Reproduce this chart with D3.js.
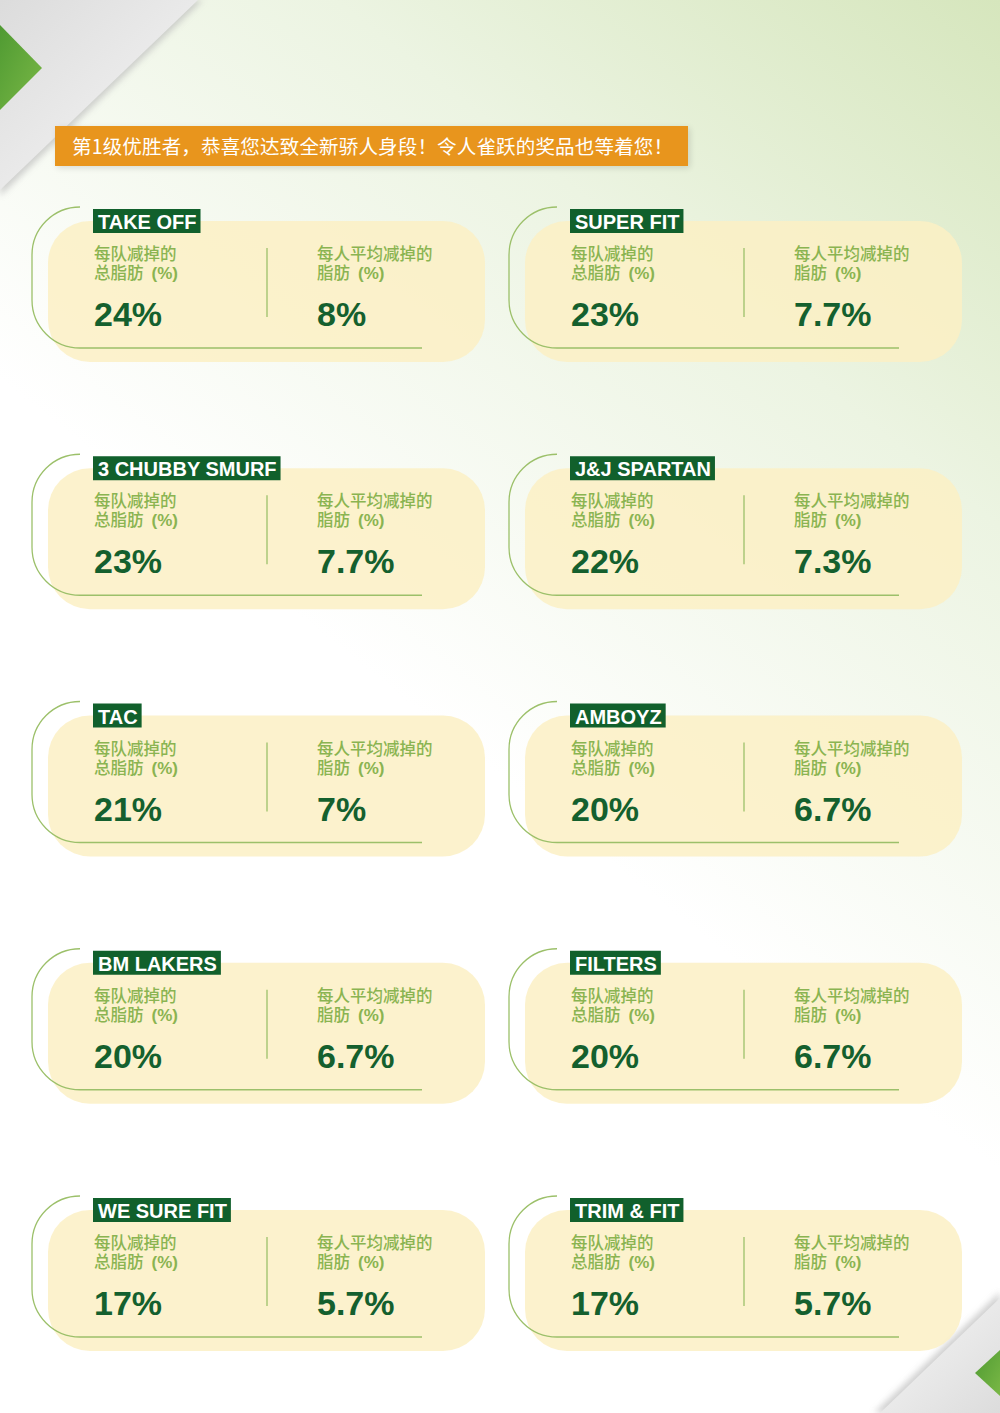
<!DOCTYPE html>
<html><head><meta charset="utf-8">
<script src="https://cdn.jsdelivr.net/npm/d3@7"></script>
<style>html,body{margin:0;padding:0;background:#fff;}svg{display:block;}</style>
</head><body>
<script>
const teams = ["TAKE OFF","SUPER FIT","3 CHUBBY SMURF","J&J SPARTAN","TAC","AMBOYZ","BM LAKERS","FILTERS","WE SURE FIT","TRIM & FIT"];
const teamLoss = [24,23,23,22,21,20,20,20,17,17];
const perPersonLoss = [8,7.7,7.7,7.3,7,6.7,6.7,6.7,5.7,5.7];
const bannerText = "第1级优胜者，恭喜您达致全新骄人身段！令人雀跃的奖品也等着您！";
const labelTeam = ["每队减掉的","总脂肪"];
const labelPerson = ["每人平均减掉的","脂肪"];
const unitText = "(%)";

const W = 1000, H = 1413;
const svg = d3.select("body").append("svg").attr("width", W).attr("height", H);
const defs = svg.append("defs");

const bg = defs.append("linearGradient").attr("id","bg").attr("gradientUnits","userSpaceOnUse")
  .attr("x1",1000).attr("y1",0).attr("x2",430).attr("y2",720);
bg.append("stop").attr("offset",0).attr("stop-color","#d6e6bd");
bg.append("stop").attr("offset",0.45).attr("stop-color","#ecf4e2");
bg.append("stop").attr("offset",1).attr("stop-color","#ffffff");
svg.append("rect").attr("width",W).attr("height",H).attr("fill","url(#bg)");

const gray = defs.append("linearGradient").attr("id","gray").attr("x1",0).attr("y1",0).attr("x2",1).attr("y2",1);
gray.append("stop").attr("offset",0).attr("stop-color","#dcdcdc");
gray.append("stop").attr("offset",1).attr("stop-color","#f7f7f7");
const gray2 = defs.append("linearGradient").attr("id","gray2").attr("x1",1).attr("y1",1).attr("x2",0).attr("y2",0);
gray2.append("stop").attr("offset",0).attr("stop-color","#dcdcdc");
gray2.append("stop").attr("offset",1).attr("stop-color","#f7f7f7");
const grn = defs.append("linearGradient").attr("id","grn").attr("x1",0).attr("y1",0).attr("x2",1).attr("y2",1);
grn.append("stop").attr("offset",0).attr("stop-color","#4f9a32");
grn.append("stop").attr("offset",1).attr("stop-color","#7ab846");
const blur = defs.append("filter").attr("id","blur").attr("x","-20%").attr("y","-20%").attr("width","140%").attr("height","140%");
blur.append("feGaussianBlur").attr("stdDeviation",3);

// corner decorations
svg.append("path").attr("d","M0,0 L203,0 L0,196 Z").attr("fill","#bdbdbd").attr("filter","url(#blur)").attr("opacity",0.7);
svg.append("path").attr("d","M0,0 L198,0 L0,190 Z").attr("fill","url(#gray)");
svg.append("path").attr("d","M0,25 L42,68 L0,110 Z").attr("fill","url(#grn)");
svg.append("path").attr("d","M1000,1292 L1000,1413 L874,1413 Z").attr("fill","#bdbdbd").attr("filter","url(#blur)").attr("opacity",0.7);
svg.append("path").attr("d","M1000,1298 L1000,1413 L880,1413 Z").attr("fill","url(#gray2)");
svg.append("path").attr("d","M1000,1350 L975,1373 L1000,1396 Z").attr("fill","url(#grn)");

// banner
svg.append("rect").attr("x",57).attr("y",128).attr("width",633).attr("height",40).attr("fill","#000").attr("opacity",0.12).attr("filter","url(#blur)");
svg.append("rect").attr("x",55).attr("y",126).attr("width",633).attr("height",40).attr("fill","#e8951d");
svg.append("text").attr("x",72).attr("y",154).text(bannerText)
  .attr("font-family","'Noto Sans CJK SC', sans-serif").attr("font-size",19.5).attr("fill","#fff").attr("font-weight",400)
  .attr("textLength",601).attr("lengthAdjust","spacing");

const data = teams.map((t,i)=>({team:t, total:teamLoss[i], per:perPersonLoss[i], col:i%2, row:Math.floor(i/2)}));
const xCol = d3.scalePoint().domain([0,1]).range([48,525]);
const yRow = d3.scaleLinear().domain([0,4]).range([209,1198]);
const fmt = v => v + "%";

const cards = svg.selectAll("g.card").data(data).join("g").attr("class","card")
  .attr("transform", d=>`translate(${xCol(d.col)},${yRow(d.row)})`);

// fill
cards.append("rect").attr("x",0).attr("y",12).attr("width",437).attr("height",141).attr("rx",42).attr("ry",42)
  .attr("fill","#fcf0c4").attr("opacity",0.85);
// outline
cards.append("path").attr("d","M32,-2 A48,48 0 0 0 -16,46 L-16,91 A48,48 0 0 0 32,139 L374,139")
  .attr("fill","none").attr("stroke","#9cc06a").attr("stroke-width",1.3);
// divider
cards.append("line").attr("x1",219).attr("x2",219).attr("y1",39).attr("y2",108).attr("stroke","#9cc06a").attr("stroke-width",1.3);
// label
cards.each(function(d){
  const g = d3.select(this);
  const t = g.append("text").attr("x",50).attr("y",20).text(d.team)
    .attr("font-family","'Liberation Sans', Arial, sans-serif").attr("font-weight",700).attr("font-size",20).attr("fill","#fff");
  const w = t.node().getComputedTextLength();
  g.insert("rect", "text").attr("x",45).attr("y",0).attr("width",w+9).attr("height",24).attr("fill","#11602c");
});
const sub = (sel, x, lines) => {
  const t = sel.append("text").attr("y",51)
    .attr("font-family","'Noto Sans CJK SC', sans-serif").attr("font-size",16.5).attr("font-weight",500).attr("fill","#8ab451");
  t.append("tspan").attr("x",x).attr("y",51).text(lines[0]);
  t.append("tspan").attr("x",x).attr("y",70).text(lines[1]);
  t.append("tspan").attr("dx",8).attr("font-family","'Liberation Sans', Arial, sans-serif").attr("font-weight",700).attr("font-size",17).text(unitText);
};
sub(cards, 46, labelTeam);
sub(cards, 269, labelPerson);
cards.append("text").attr("x",46).attr("y",117).text(d=>fmt(d.total))
  .attr("font-family","'Liberation Sans', Arial, sans-serif").attr("font-weight",700).attr("font-size",34).attr("fill","#14602e");
cards.append("text").attr("x",269).attr("y",117).text(d=>fmt(d.per))
  .attr("font-family","'Liberation Sans', Arial, sans-serif").attr("font-weight",700).attr("font-size",34).attr("fill","#14602e");
</script>
</body></html>
